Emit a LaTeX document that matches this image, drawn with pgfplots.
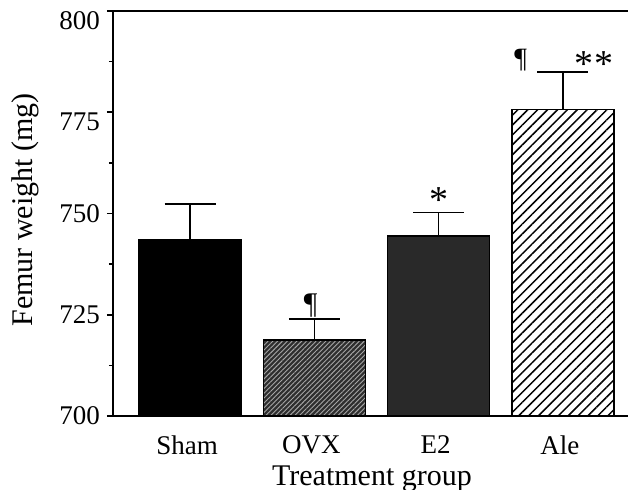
\documentclass[border=0pt]{standalone}
\usepackage{fontspec}
\setmainfont{Liberation Serif}
\usepackage{pgfplots}
\pgfplotsset{compat=1.18}
\usetikzlibrary{patterns.meta}
\begin{document}
\begin{tikzpicture}
\begin{axis}[
  scale only axis, width=257.5pt, height=202.5pt,
  xmin=-0.62, xmax=3.523, ymin=700, ymax=800,
  axis x line*=bottom, axis y line*=left,
  axis line style={line width=1pt},
  xtick={0,1,2,3}, xticklabels={Sham,OVX,E2,Ale},
  xtick style={draw=none},
  ytick={700,725,750,775,800},
  yticklabels={700,725,750,{\raisebox{-4.5pt}[9pt][0pt]{775}},{\raisebox{-4.5pt}[9pt][0pt]{800}}},
  minor y tick num=1,
  tick align=outside,
  major tick length=3pt, minor tick length=2pt,
  ytick style={line width=0.8pt, black},
  /pgf/number format/assume math mode=true,
  ticklabel style={font=\fontsize{13.5}{16}\selectfont},
  xticklabel style={yshift=-3.5pt, xshift=-1.5pt},
  clip=false,
  error bars/error bar style={line width=0.75pt, black},
  error bars/error mark options={rotate=90, mark size=12.75pt, line width=0.75pt, black},
]
\addplot[ybar, bar width=51pt, bar shift=0pt, draw=black, line width=0.8pt, fill=black,
  error bars/.cd, y dir=plus, y explicit]
  coordinates {(0,743.6) +- (0,8.7)};
\addplot[ybar, bar width=51pt, bar shift=0pt, draw=black, line width=0.8pt, fill=black!82,
  postaction={pattern={Lines[angle=45,distance=1.7pt,line width=0.45pt]}, pattern color=black!35},
  error bars/.cd, y dir=plus, y explicit]
  coordinates {(1,718.8) +- (0,5.1)};
\addplot[ybar, bar width=51pt, bar shift=0pt, draw=black, line width=0.8pt, fill=black!84,
  error bars/.cd, y dir=plus, y explicit]
  coordinates {(2,744.5) +- (0,5.7)};
\addplot[ybar, bar width=51pt, bar shift=0pt, draw=black, line width=0.8pt, fill=white,
  postaction={pattern={Lines[angle=45,distance=3.5pt,line width=0.75pt]}, pattern color=black},
  error bars/.cd, y dir=plus, y explicit]
  coordinates {(3,775.7) +- (0,9.3)};
\draw[line width=1.2pt] (rel axis cs:0,1) -- (rel axis cs:1,1);
\node[font=\fontsize{15}{18}\selectfont, anchor=base] at (axis cs:0.97,725.3) {¶};
\node[font=\fontsize{19}{22}\selectfont, anchor=base] at (axis cs:2,750.3) {*};
\node[font=\fontsize{14}{16}\selectfont, anchor=base] at (axis cs:2.66,786.0) {¶};
\node[font=\fontsize{19}{22}\selectfont, anchor=base] at (axis cs:3.25,783.8) {*\kern0.5pt*};
\coordinate (BL) at (rel axis cs:0,0);
\end{axis}
\node[font=\fontsize{15}{18}\selectfont, anchor=base] at ([shift={(129.5pt,-34.5pt)}]BL) {Treatment group};
\node[font=\fontsize{15}{18}\selectfont, anchor=base, rotate=90] at ([shift={(-40pt,103pt)}]BL) {Femur weight (mg)};
\pgfresetboundingbox
\path (BL) ++(-56.5pt,-36.5pt) rectangle ++(314pt,244.5pt);
\end{tikzpicture}
\end{document}
